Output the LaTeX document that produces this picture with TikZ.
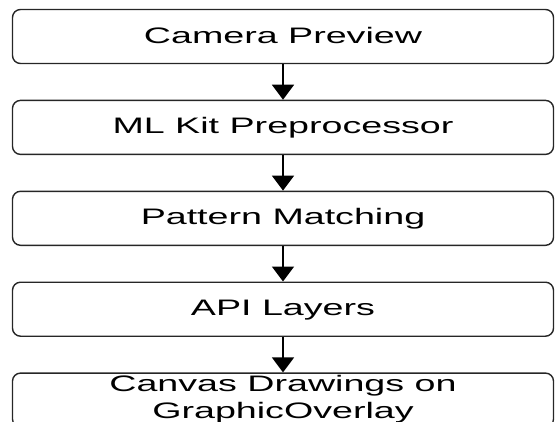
\documentclass[tikz,border=0pt]{standalone}
\usepackage{fontspec}
\newfontfamily\boxfont{Liberation Sans}[FakeStretch=1.68]
\usetikzlibrary{positioning,arrows.meta}

\begin{document}
\begin{tikzpicture}[x=1pt,y=1pt,node distance=35.5pt,
    stage/.style={draw=black!85,line width=1.4pt,rounded corners=8pt,
      minimum width=541pt,minimum height=54pt,inner sep=0pt,
      font=\boxfont\fontsize{22.4}{27}\selectfont,text height=16pt,text depth=3pt},
    flow/.style={line width=1.6pt,-{Triangle[width=22pt,length=15pt]}}]
        \useasboundingbox (0,0) rectangle (555,-421);
        \node[stage] (camera) at (283,-36.5) {Camera Preview};
        \node[stage,below=of camera] (mlkit) {ML Kit Preprocessor};
        \node[stage,below=of mlkit] (pattern) {Pattern Matching};
        \node[stage,below=of pattern] (api) {API Layers};
        \node[stage,below=of api,align=center,text height=,text depth=6pt] (canvas) {Canvas Drawings on\\GraphicOverlay};
        \draw[flow] (camera) -- (mlkit);
        \draw[flow] (mlkit) -- (pattern);
        \draw[flow] (pattern) -- (api);
        \draw[flow] (api) -- (canvas);
\end{tikzpicture}
\end{document}
